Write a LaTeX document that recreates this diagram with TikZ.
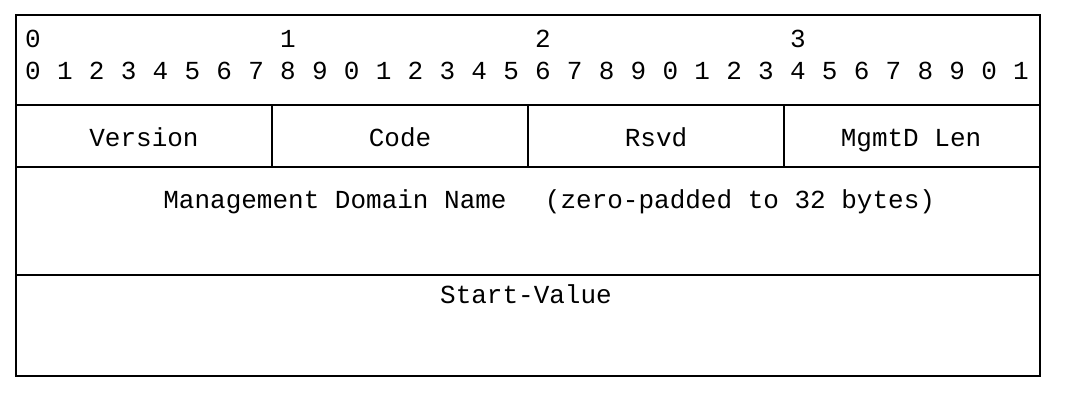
\documentclass[tikz,border=0pt]{standalone}
\usepackage{fontspec}
\setmonofont{Liberation Mono}
\begin{document}
\begin{tikzpicture}[x=1pt,y=-1pt,
  frame/.style={line width=2pt,black},
  lbl/.style={font=\ttfamily\fontsize{26}{26}\selectfont,inner sep=0pt,anchor=base}]
\useasboundingbox (0,0) rectangle (1067,403);
% frame and rows
\draw[frame] (16,15) rectangle (1040,376);
\draw[frame] (16,105) -- (1040,105);
\draw[frame] (16,167) -- (1040,167);
\draw[frame] (16,275) -- (1040,275);
\draw[frame] (272,105) -- (272,167);
\draw[frame] (528,105) -- (528,167);
\draw[frame] (784,105) -- (784,167);
% bit numbers
\foreach \i in {0,...,31}{
  \pgfmathtruncatemacro{\d}{mod(\i,10)}
  \node[lbl] (b\i) at ({33+31.87*\i},80) {\d};
}
\node[lbl] (t0) at (33,48) {0};
\node[lbl] (t1) at ({33+31.87*8},48) {1};
\node[lbl] (t2) at ({33+31.87*16},48) {2};
\node[lbl] (t3) at ({33+31.87*24},48) {3};
% fields
\node[lbl] (ver) at (144,147) {Version};
\node[lbl] (code) at (400,147) {Code};
\node[lbl] (rsvd) at (656,147) {Rsvd};
\node[lbl] (len) at (911,147) {MgmtD Len};
\node[lbl] (mdn) at (335,209) {Management Domain Name};
\node[lbl] (pad) at (740,209) {(zero-padded to 32 bytes)};
\node[lbl] (sv) at (526,303) {Start-Value};
\end{tikzpicture}
\end{document}
